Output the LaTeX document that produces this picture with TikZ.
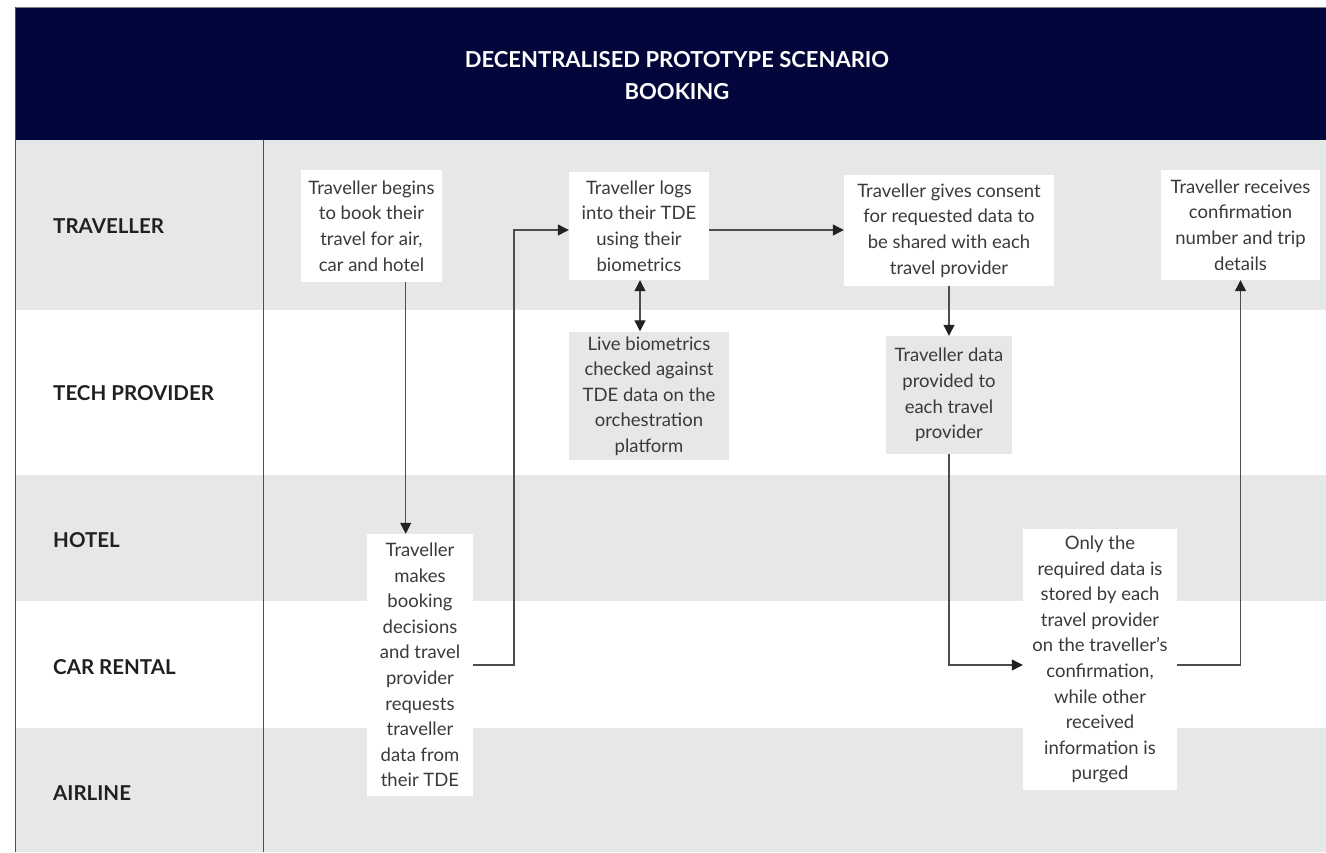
\documentclass[tikz,border=0pt]{standalone}
\usepackage{fontspec}
\setmainfont{Lato}
\usetikzlibrary{arrows.meta}
\definecolor{navy}{HTML}{02063A}
\definecolor{lanegray}{HTML}{E6E7E8}
\definecolor{txt}{HTML}{3A3A3A}
\definecolor{lbl}{HTML}{231F20}
\definecolor{ln}{HTML}{4D4D4D}
\definecolor{tipc}{HTML}{222222}
\begin{document}
\begin{tikzpicture}[x=1pt,y=-1pt,
  box/.style={rectangle, inner sep=0pt, align=center, text=txt,
    font=\fontsize{18.5}{25.6}\selectfont},
  wbox/.style={box, fill=white},
  gbox/.style={box, fill=lanegray},
  lanelbl/.style={anchor=west, inner sep=0pt, text=lbl, font=\bfseries\fontsize{20.5}{22}\selectfont},
  conn/.style={draw=ln, line width=1.2pt},
  arr/.style={conn, -{Triangle[length=11pt,width=11pt,color=tipc]}},
  darr/.style={conn, {Triangle[length=11pt,width=11pt,color=tipc]}-{Triangle[length=11pt,width=11pt,color=tipc]}}]
\useasboundingbox (0,0) rectangle (1326,852);
\fill[white] (0,0) rectangle (1326,852);
% lanes
\fill[lanegray] (15,140) rectangle (1326,310);
\fill[lanegray] (15,475) rectangle (1326,601);
\fill[lanegray] (15,728) rectangle (1326,852);
% header
\fill[navy] (15,8) rectangle (1326,140);
\draw[gray, line width=1.5pt] (15,7.5) -- (1326,7.5);
\draw[ln, line width=1pt] (15.5,7) -- (15.5,852);
\draw[ln, line width=1pt] (263,140) -- (263,852);
\node[white, align=center, font=\bfseries\fontsize{22}{32}\selectfont] (title) at (677,76)
  {DECENTRALISED PROTOTYPE SCENARIO\\BOOKING};
% lane labels
\node[lanelbl] (l1) at (53,226) {TRAVELLER};
\node[lanelbl] (l2) at (53,393) {TECH PROVIDER};
\node[lanelbl] (l3) at (53,540) {HOTEL};
\node[lanelbl] (l4) at (53,667) {CAR RENTAL};
\node[lanelbl] (l5) at (53,793) {AIRLINE};
% boxes
\node[wbox, minimum width=141pt, minimum height=112pt] (b1) at (371.5,226)
  {Traveller begins\\to book their\\travel for air,\\car and hotel};
\node[wbox, minimum width=140pt, minimum height=108pt] (b2) at (639,226)
  {Traveller logs\\into their TDE\\using their\\biometrics};
\node[wbox, minimum width=210pt, minimum height=111pt] (b3) at (949,230.5)
  {Traveller gives consent\\for requested data to\\be shared with each\\travel provider};
\begin{scope}
\clip (569,330) rectangle (729,459);
\node[gbox, minimum width=160pt, minimum height=129pt] (b4) at (649,396)
  {Live biometrics\\checked against\\TDE data on the\\orchestration\\platform};
\end{scope}
\node[gbox, minimum width=126pt, minimum height=118pt] (b5) at (949,395)
  {Traveller data\\provided to\\each travel\\provider};
\node[wbox, minimum width=159pt, minimum height=110pt] (b6) at (1240.5,225)
  {Traveller receives\\confirmation\\number and trip\\details};
\node[wbox, minimum width=106pt, minimum height=262pt] (b7) at (420,665)
  {Traveller\\makes\\booking\\decisions\\and travel\\provider\\requests\\traveller\\data from\\their TDE};
\node[wbox, minimum width=154pt, minimum height=261pt] (b8) at (1100,659.5)
  {Only the\\required data is\\stored by each\\travel provider\\on the traveller's\\confirmation,\\while other\\received\\information is\\purged};
% bend points
\coordinate (k0) at (405.7,0);
\coordinate (k1) at (514,665);
\coordinate (k2) at (514,230);
\coordinate (k3) at (640,0);
\coordinate (k4) at (949,665);
% connectors
\draw[arr] (b1.south -| k0) -- (b7.north -| k0);
\draw[arr] (b7.east |- k1) -- (k1) -- (k2) -- (b2.west |- k2);
\draw[arr] (b2.east |- k2) -- (b3.west |- k2);
\draw[darr] (b2.south -| k3) -- (b4.north -| k3);
\draw[arr] (b3.south) -- (b5.north);
\draw[arr] (b5.south) -- (k4) -- (b8.west |- k4);
\draw[arr] (b8.east |- k4) -| (b6.south);
\end{tikzpicture}
\end{document}
